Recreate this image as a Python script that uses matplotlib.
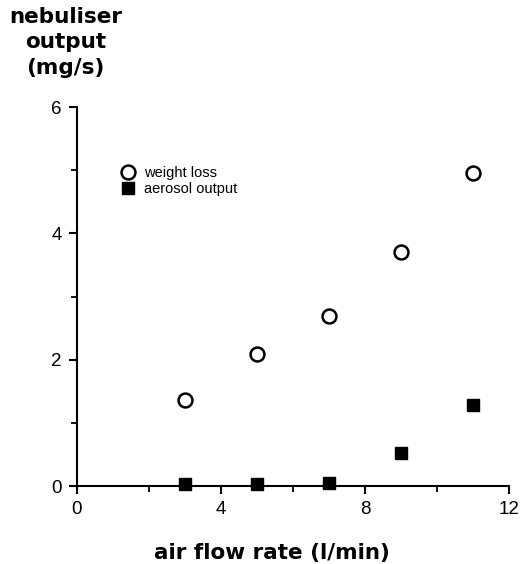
import matplotlib
matplotlib.use("Agg")
import matplotlib.pyplot as plt
from matplotlib.ticker import MultipleLocator

# data
flow = [3, 5, 7, 9, 11]
weight_loss = [1.37, 2.10, 2.70, 3.70, 4.95]
aerosol_out = [0.03, 0.03, 0.05, 0.52, 1.28]

xticks = [0, 4, 8, 12]
yticks = [0, 2, 4, 6]

fig = plt.figure(figsize=(5.23, 5.64), dpi=100)
ax = fig.add_axes([0.147, 0.138, 0.826, 0.672])

ax.plot(flow, weight_loss, 'o', ms=10, mfc='white', mec='black', mew=1.8,
        label='weight loss', clip_on=False)
ax.plot(flow, aerosol_out, 's', ms=8, mfc='black', mec='black',
        label='aerosol output', clip_on=False)

ax.set_xlim(0, 12)
ax.set_ylim(0, 6)
ax.set_xticks(xticks)
ax.set_yticks(yticks)
ax.xaxis.set_minor_locator(MultipleLocator(2))
ax.yaxis.set_minor_locator(MultipleLocator(1))

for s in ['top', 'right']:
    ax.spines[s].set_visible(False)
for s in ['left', 'bottom']:
    ax.spines[s].set_linewidth(1.5)

tickfont = 'Liberation Sans'
ax.tick_params(which='major', direction='out', length=6, width=1.5,
               labelsize=13.5, pad=5)
ax.tick_params(which='minor', direction='out', length=4, width=1.3)
for lab in ax.get_xticklabels() + ax.get_yticklabels():
    lab.set_fontfamily(tickfont)

leg = ax.legend(loc='upper left', bbox_to_anchor=(0.085, 0.865), frameon=False,
                handlelength=1.0, handletextpad=0.6, borderpad=0,
                labelspacing=0.15, prop={'family': tickfont, 'size': 10.5})

fig.text(0.125, 0.988, 'nebuliser\noutput\n(mg/s)', ha='center', va='top',
         fontsize=15.5, fontweight='bold', family='DejaVu Sans',
         linespacing=1.35)
fig.text(0.52, 0.008, 'air flow rate (l/min)', ha='center', va='baseline',
         fontsize=15.5, fontweight='bold', family='DejaVu Sans')

fig.savefig('out.png', dpi=100)
